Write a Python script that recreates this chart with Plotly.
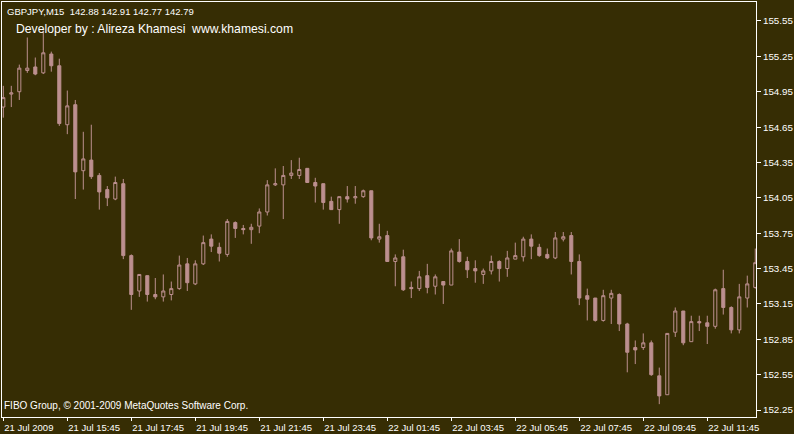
import plotly.graph_objects as go

# ---- data (GBPJPY M15) ----
bar_index = list(range(95))
open_ = [154.82, 154.93, 154.95, 155.13, 155.16, 155.11, 155.27, 155.17, 154.67, 154.84,
         154.28, 154.37, 154.24, 154.12, 154.04, 154.17, 153.56, 153.26, 153.39, 153.23,
         153.21, 153.23, 153.28, 153.49, 153.32, 153.49, 153.70, 153.63, 153.57, 153.84,
         153.79, 153.78, 153.81, 153.93, 154.16, 154.16, 154.24, 154.24, 154.30, 154.18,
         154.17, 154.02, 153.95, 154.06, 154.05, 154.06, 154.11, 153.70, 153.73, 153.51,
         153.55, 153.29, 153.28, 153.39, 153.30, 153.34, 153.31, 153.59, 153.51, 153.45,
         153.40, 153.43, 153.51, 153.45, 153.53, 153.55, 153.70, 153.63, 153.57, 153.54,
         153.70, 153.73, 153.51, 153.22, 153.20, 153.01, 153.20, 153.23, 152.98, 152.78,
         152.78, 152.82, 152.54, 152.38, 152.91, 153.09, 152.83, 153.00, 152.99, 152.96,
         153.28, 153.12, 152.93, 153.20, 153.29]
high_ = [155.00, 155.00, 155.18, 155.41, 155.24, 155.47, 155.29, 155.23, 154.96, 154.88,
         154.61, 154.67, 154.26, 154.15, 154.23, 154.21, 153.57, 153.40, 153.39, 153.37,
         153.40, 153.34, 153.56, 153.54, 153.52, 153.73, 153.74, 153.67, 153.87, 153.85,
         153.82, 153.83, 153.96, 154.20, 154.30, 154.32, 154.37, 154.39, 154.30, 154.22,
         154.17, 154.06, 154.06, 154.15, 154.15, 154.12, 154.11, 153.83, 153.77, 153.57,
         153.61, 153.34, 153.43, 153.49, 153.40, 153.34, 153.62, 153.70, 153.55, 153.52,
         153.45, 153.56, 153.52, 153.60, 153.67, 153.72, 153.74, 153.66, 153.62, 153.76,
         153.76, 153.76, 153.57, 153.28, 153.20, 153.27, 153.27, 153.24, 152.99, 152.84,
         152.90, 152.84, 152.61, 152.90, 153.12, 153.09, 153.05, 153.05, 153.05, 153.28,
         153.44, 153.13, 153.32, 153.39, 153.62]
low_ = [154.73, 154.82, 154.88, 155.11, 155.09, 155.10, 155.12, 154.66, 154.59, 154.04,
        154.12, 154.21, 153.95, 153.98, 154.03, 153.53, 153.10, 153.21, 153.17, 153.19,
        153.17, 153.18, 153.27, 153.26, 153.31, 153.48, 153.59, 153.51, 153.55, 153.71,
        153.74, 153.66, 153.75, 153.90, 154.15, 153.87, 154.21, 154.21, 154.18, 154.01,
        153.95, 153.95, 153.83, 154.01, 154.00, 154.05, 153.69, 153.67, 153.51, 153.30,
        153.26, 153.20, 153.26, 153.24, 153.23, 153.15, 153.31, 153.50, 153.37, 153.33,
        153.32, 153.40, 153.34, 153.38, 153.53, 153.51, 153.53, 153.55, 153.53, 153.53,
        153.68, 153.40, 153.14, 153.01, 153.00, 153.00, 152.98, 152.92, 152.57, 152.64,
        152.76, 152.54, 152.30, 152.38, 152.87, 152.80, 152.83, 152.92, 152.81, 152.94,
        153.06, 152.90, 152.90, 153.12, 153.28]
close_ = [154.90, 154.94, 155.15, 155.15, 155.10, 155.28, 155.17, 154.68, 154.83, 154.27,
          154.38, 154.23, 154.10, 154.05, 154.18, 153.56, 153.23, 153.40, 153.23, 153.21,
          153.26, 153.28, 153.48, 153.33, 153.49, 153.67, 153.64, 153.58, 153.85, 153.79,
          153.78, 153.80, 153.93, 154.16, 154.17, 154.24, 154.26, 154.29, 154.18, 154.15,
          154.01, 153.95, 154.06, 154.04, 154.06, 154.11, 153.71, 153.72, 153.51, 153.54,
          153.27, 153.28, 153.38, 153.29, 153.38, 153.31, 153.60, 153.51, 153.44, 153.43,
          153.43, 153.51, 153.45, 153.54, 153.56, 153.70, 153.64, 153.56, 153.54, 153.71,
          153.72, 153.51, 153.20, 153.19, 153.01, 153.22, 153.24, 152.98, 152.74, 152.76,
          152.82, 152.55, 152.37, 152.90, 153.09, 152.82, 153.00, 152.99, 152.96, 153.27,
          153.12, 152.93, 153.21, 153.32, 153.50]

x_tick_index = [0, 8, 16, 24, 32, 40, 48, 56, 64, 72, 80, 88]
x_tick_labels = ["21 Jul 2009", "21 Jul 15:45", "21 Jul 17:45", "21 Jul 19:45",
                 "21 Jul 21:45", "21 Jul 23:45", "22 Jul 01:45", "22 Jul 03:45",
                 "22 Jul 05:45", "22 Jul 07:45", "22 Jul 09:45", "22 Jul 11:45"]
y_tick_values = [152.25, 152.55, 152.85, 153.15, 153.45, 153.75,
                 154.05, 154.35, 154.65, 154.95, 155.25, 155.55]

header_text = "GBPJPY,M15  142.88 142.91 142.77 142.79"
developer_text = "Developer by : Alireza Khamesi  www.khamesi.com"
copyright_text = "FIBO Group, © 2001-2009 MetaQuotes Software Corp."

# ---- styling ----
BG = "#362D04"
CANDLE = "#BC8F8F"
FG = "#FFFFFF"
SMALL_FONT = "Liberation Sans, Arial, sans-serif"

fig = go.Figure(go.Candlestick(
    x=bar_index, open=open_, high=high_, low=low_, close=close_,
    increasing=dict(line=dict(color=CANDLE, width=1), fillcolor=BG),
    decreasing=dict(line=dict(color=CANDLE, width=1), fillcolor=CANDLE),
    whiskerwidth=0, hoverinfo="skip", showlegend=False,
))

fig.update_layout(
    width=794, height=434,
    margin=dict(l=2, r=38, t=2, b=17),
    paper_bgcolor=BG, plot_bgcolor=BG,
    boxgap=0.45,
    showlegend=False,
    font=dict(family=SMALL_FONT, size=9.5, color=FG),
    xaxis=dict(
        range=[-0.1625, 94.09],
        rangeslider=dict(visible=False),
        automargin=False,
        showgrid=False, zeroline=False,
        showline=True, mirror=True, linecolor=FG, linewidth=1,
        ticks="outside", ticklen=3, tickcolor=FG, tickwidth=1,
        tickvals=x_tick_index, ticktext=x_tick_labels,
        tickangle=0,
        ticklabelposition="outside right",
        ticklabelstandoff=2,
        tickfont=dict(family=SMALL_FONT, size=9.5, color=FG),
    ),
    yaxis=dict(
        range=[152.191, 155.711],
        side="right",
        automargin=False,
        showgrid=False, zeroline=False,
        showline=True, mirror=True, linecolor=FG, linewidth=1,
        ticks="outside", ticklen=4, tickcolor=FG, tickwidth=1,
        tickvals=y_tick_values, tickformat=".2f",
        tickfont=dict(family=SMALL_FONT, size=9.8, color=FG),
    ),
    annotations=[
        dict(text=header_text, xref="paper", yref="paper", x=0.004, y=0.978,
             xanchor="left", yanchor="middle", showarrow=False,
             font=dict(family=SMALL_FONT, size=9.5, color=FG)),
        dict(text=developer_text, xref="paper", yref="paper", x=0.016, y=0.934,
             xanchor="left", yanchor="middle", showarrow=False,
             font=dict(family="Liberation Sans, Arial, sans-serif", size=12.2, color=FG)),
        dict(text=copyright_text, xref="paper", yref="paper", x=0.0, y=0.027,
             xanchor="left", yanchor="middle", showarrow=False,
             font=dict(family=SMALL_FONT, size=10, color=FG)),
    ],
)

fig.write_html("out.html",
               config={"displayModeBar": False},
               post_script="document.body.style.margin='0';document.body.style.padding='0';"
                           "document.body.style.background='" + BG + "';")
